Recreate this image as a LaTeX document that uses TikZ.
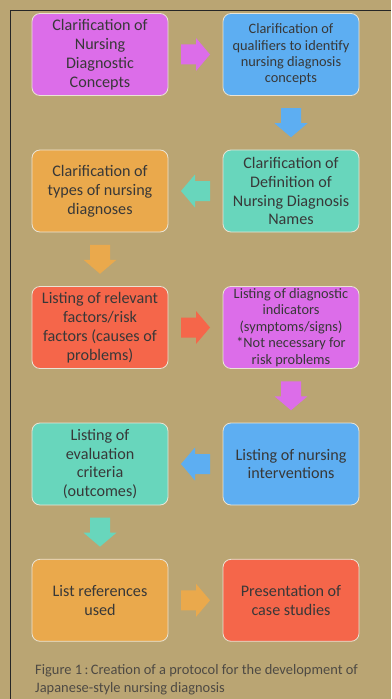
\documentclass[tikz,border=0pt]{standalone}
\usepackage{fontspec}
\setmainfont{Carlito}
\usetikzlibrary{calc}
\definecolor{bg}{HTML}{BAA573}
\definecolor{cmag}{HTML}{DC6DE9}
\definecolor{cblue}{HTML}{5DAEF2}
\definecolor{cteal}{HTML}{68D6BC}
\definecolor{corange}{HTML}{EAA94C}
\definecolor{cred}{HTML}{F5664A}
\definecolor{ctext}{HTML}{383838}
\definecolor{ccap}{HTML}{4E4A44}
\tikzset{
  box/.style={draw=white!70!bg, line width=0.8bp, rounded corners=8bp,
    minimum width=136bp, minimum height=82bp, inner sep=2bp,
    align=center, text=ctext, font=\fontsize{16.2}{19}\selectfont},
  small/.style={font=\fontsize{14.4}{16.4}\selectfont},
}
\newcommand{\blockarr}[3]{%
  \fill[#1, shift={(#2)}, rotate=#3] (-14.5,-10) -- (0.5,-10) -- (0.5,-16.5) -- (14.5,0)
     -- (0.5,16.5) -- (0.5,10) -- (-14.5,10) -- cycle;}
\begin{document}
\begin{tikzpicture}[x=1bp,y=-1bp]
\fill[bg] (0,0) rectangle (391,699);
\useasboundingbox (0,0) rectangle (391,699);
\draw[line width=1.2bp, black!85] (10.5,699) -- (10.5,10.5) -- (391,10.5);

\node[box, fill=cmag] (a1) at (100,54.5) {Clarification of\\Nursing\\Diagnostic\\Concepts};
\node[box, small, fill=cblue] (a2) at (291,54.5) {Clarification of\\qualifiers to identify\\nursing diagnosis\\concepts};
\node[box, fill=cteal] (b2) at (291,191) {Clarification of\\Definition of\\Nursing Diagnosis\\Names};
\node[box, fill=corange] (b1) at (100,191) {Clarification of\\types of nursing\\diagnoses};
\node[box, fill=cred] (c1) at (100,327.5) {Listing of relevant\\factors/risk\\factors (causes of\\problems)};
\node[box, small, fill=cmag] (c2) at (291,327.5) {Listing of diagnostic\\indicators\\(symptoms/signs)\\*Not necessary for\\risk problems};
\node[box, fill=cblue] (d2) at (291,464) {Listing of nursing\\interventions};
\node[box, fill=cteal] (d1) at (100,464) {Listing of\\evaluation\\criteria\\(outcomes)};
\node[box, fill=corange] (e1) at (100,600.3) {List references\\used};
\node[box, fill=cred] (e2) at (291,600.3) {Presentation of\\case studies};

\blockarr{cmag}{$(a1.east)!0.5!(a2.west)$}{0}
\blockarr{cblue}{$(a2.south)!0.5!(b2.north)$}{-90}
\blockarr{cteal}{$(b2.west)!0.5!(b1.east)$}{180}
\blockarr{corange}{$(b1.south)!0.5!(c1.north)$}{-90}
\blockarr{cred}{$(c1.east)!0.5!(c2.west)$}{0}
\blockarr{cmag}{$(c2.south)!0.5!(d2.north)$}{-90}
\blockarr{cblue}{$(d2.west)!0.5!(d1.east)$}{180}
\blockarr{cteal}{$(d1.south)!0.5!(e1.north)$}{-90}
\blockarr{corange}{$(e1.east)!0.5!(e2.west)$}{0}

\node[anchor=base west, align=left, text=ccap, inner sep=0pt,
  font=\fontsize{14.5}{18}\selectfont] (cap) at (35,692)
  {Figure 1\,:\,Creation of a protocol for the development of\\Japanese-style nursing diagnosis};
\end{tikzpicture}
\end{document}
